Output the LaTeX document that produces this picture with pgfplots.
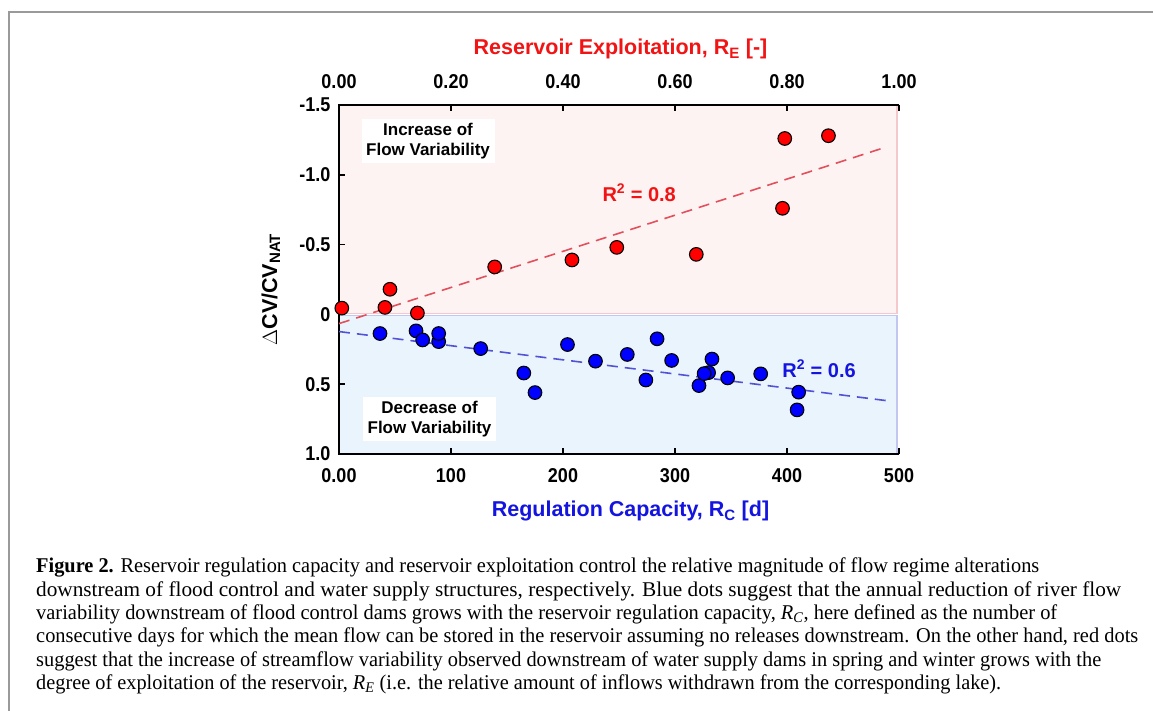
\documentclass[border=0pt]{standalone}
\usepackage{pgfplots}
\pgfplotsset{compat=1.18}
\usepackage{fontspec}
\usepackage{graphicx}
\setmainfont{Liberation Serif}
\newfontfamily\arialn[FakeStretch=0.9]{Liberation Sans}
\newfontfamily\arial{Liberation Sans}
\newfontfamily\capfont[FakeStretch=0.82]{Liberation Serif}

\definecolor{ptred}{HTML}{FF0000}
\definecolor{ptblue}{HTML}{0000FF}
\definecolor{txtred}{HTML}{F21414}
\definecolor{txtblue}{HTML}{1414E0}
\definecolor{pinkbg}{HTML}{FDF3F3}
\definecolor{pinkedge}{HTML}{F5C8CC}
\definecolor{bluebg}{HTML}{EAF4FD}
\definecolor{blueedge}{HTML}{C4C6F2}
\definecolor{redline}{HTML}{E2505C}
\definecolor{blueline}{HTML}{5252D6}
\definecolor{framegray}{HTML}{9A9A9A}

\newcommand\tickfont{\arialn\bfseries\fontsize{20}{20}\selectfont}
\newcommand\labfont{\arial\bfseries\fontsize{21.5}{24}\selectfont}
\newcommand\boxfont{\arial\bfseries\fontsize{17}{20}\selectfont}
\newcommand\rfont{\arial\bfseries\fontsize{20}{22}\selectfont}
\newcommand\capline[2]{\resizebox{#1pt}{\height}{#2}}

\begin{document}
\begin{tikzpicture}[x=1pt,y=1pt]
\draw[framegray, line width=2pt] (9,0) -- (9,699) -- (1153,699);

% ---------------- main axis: regulation capacity (bottom) ----------------
\begin{axis}[
  set layers,
  at={(339pt,257pt)}, anchor=south west,
  scale only axis, width=560pt, height=349pt,
  xmin=0, xmax=500, ymin=-1.5, ymax=1, y dir=reverse,
  axis line style={draw=none},
  xtick={0,100,200,300,400,500},
  xticklabels={0.00,100,200,300,400,500},
  ytick={-1.5,-1,-0.5,0,0.5,1},
  yticklabels={-1.5,-1.0,-0.5,0,0.5,1.0},
  tick align=inside, xtick pos=both, ytick pos=left,
  xticklabel pos=left,
  major tick length=6pt,
  tick style={black, line width=1.5pt},
  ticklabel style={font=\tickfont},
  xticklabel style={yshift=-11pt},
  yticklabel style={xshift=-5pt},
  clip=false,
]
\addplot[on layer=axis background, fill=pinkbg, draw=pinkedge, line width=1.5pt]
  coordinates {(0,-1.5) (498,-1.5) (498,-0.008) (0,-0.008)} -- cycle;
\addplot[on layer=axis background, fill=bluebg, draw=blueedge, line width=1.5pt]
  coordinates {(0,0.008) (498,0.008) (498,1) (0,1)} -- cycle;
\draw[black, line width=1.6pt] (rel axis cs:1,0) -- (rel axis cs:0,0) -- (rel axis cs:0,1) -- (rel axis cs:1,1);

\node[fill=white, inner sep=0pt, minimum width=133pt, minimum height=44pt, align=center, font=\boxfont]
  at (axis cs:79.5,-1.243) {Increase of\\Flow Variability};
\node[fill=white, inner sep=0pt, minimum width=133pt, minimum height=44pt, align=center, font=\boxfont]
  at (axis cs:80.8,0.752) {Decrease of\\Flow Variability};

\addplot[blueline, line width=1.6pt, dash pattern=on 11pt off 7pt]
  coordinates {(0,0.123) (491,0.62)};

\addplot[only marks, mark=*, mark size=6.8pt, mark options={fill=ptblue, draw=black, line width=1.1pt}]
  coordinates {
  (36.6,0.137) (68.8,0.118) (74.7,0.183) (89,0.195) (89,0.137)
  (126.5,0.245) (165,0.42) (175,0.56) (204,0.216) (229,0.335)
  (257.4,0.287) (274,0.47) (284,0.175) (297,0.33) (330,0.417)
  (321.4,0.51) (326,0.424) (333,0.32) (347,0.455) (376.5,0.426)
  (410.4,0.557) (409,0.684)
  };

\node[font=\rfont, text=txtred] at (axis cs:268,-0.87) {R\textsuperscript{2} = 0.8};
\node[font=\rfont, text=txtblue] at (axis cs:428.6,0.39) {R\textsuperscript{2} = 0.6};
\end{axis}

% ---------------- second axis: reservoir exploitation (top) ----------------
\begin{axis}[
  at={(339pt,257pt)}, anchor=south west,
  scale only axis, width=560pt, height=349pt,
  xmin=0, xmax=1, ymin=-1.5, ymax=1, y dir=reverse,
  axis line style={draw=none},
  xtick={0,0.2,0.4,0.6,0.8,1},
  xticklabels={0.00,0.20,0.40,0.60,0.80,1.00},
  ytick=\empty,
  xticklabel pos=right,
  major tick length=0pt,
  ticklabel style={font=\tickfont},
  xticklabel style={yshift=13pt},
  clip=false,
]
\addplot[redline, line width=1.6pt, dash pattern=on 11pt off 7pt]
  coordinates {(0,0.066) (0.978,-1.20)};
\addplot[only marks, mark=*, mark size=6.8pt, mark options={fill=ptred, draw=black, line width=1.1pt}]
  coordinates {
  (0.005,-0.045) (0.082,-0.05) (0.091,-0.18) (0.140,-0.01) (0.278,-0.34)
  (0.416,-0.39) (0.496,-0.48) (0.638,-0.43) (0.792,-0.76) (0.796,-1.26)
  (0.874,-1.28)
  };
\end{axis}

% ---------------- axis titles ----------------
\node[anchor=base, text=txtred, font=\labfont] at (620.5,656) {Reservoir Exploitation, R\textsubscript{E} [-]};
\node[anchor=base, text=txtblue, font=\labfont] at (630.5,194) {Regulation Capacity, R\textsubscript{C} [d]};
\node[anchor=base, rotate=90, font=\labfont] at (277,421.5) {$\Delta$CV/CV\textsubscript{NAT}};

% ---------------- caption ----------------
\begin{scope}[every node/.style={anchor=base west, inner sep=0pt, font=\capfont\fontsize{21}{23}\selectfont}]
\node at (36,138) {\capline{1003}{\textbf{Figure 2.} Reservoir regulation capacity and reservoir exploitation control the relative magnitude of flow regime alterations}};
\node at (36,114.7) {\capline{1085}{downstream of flood control and water supply structures, respectively. Blue dots suggest that the annual reduction of river flow}};
\node at (36,91.4) {\capline{1021}{variability downstream of flood control dams grows with the reservoir regulation capacity, \textit{R}\textsubscript{\textit{C}}, here defined as the number of}};
\node at (36,68) {\capline{1102}{consecutive days for which the mean flow can be stored in the reservoir assuming no releases downstream. On the other hand, red dots}};
\node at (36,44.7) {\capline{1065}{suggest that the increase of streamflow variability observed downstream of water supply dams in spring and winter grows with the}};
\node at (36,21.4) {\capline{965}{degree of exploitation of the reservoir, \textit{R}\textsubscript{\textit{E}} (i.e. the relative amount of inflows withdrawn from the corresponding lake).}};
\end{scope}
\pgfresetboundingbox
\path[use as bounding box] (0,0) rectangle (1153,711);
\end{tikzpicture}
\end{document}
